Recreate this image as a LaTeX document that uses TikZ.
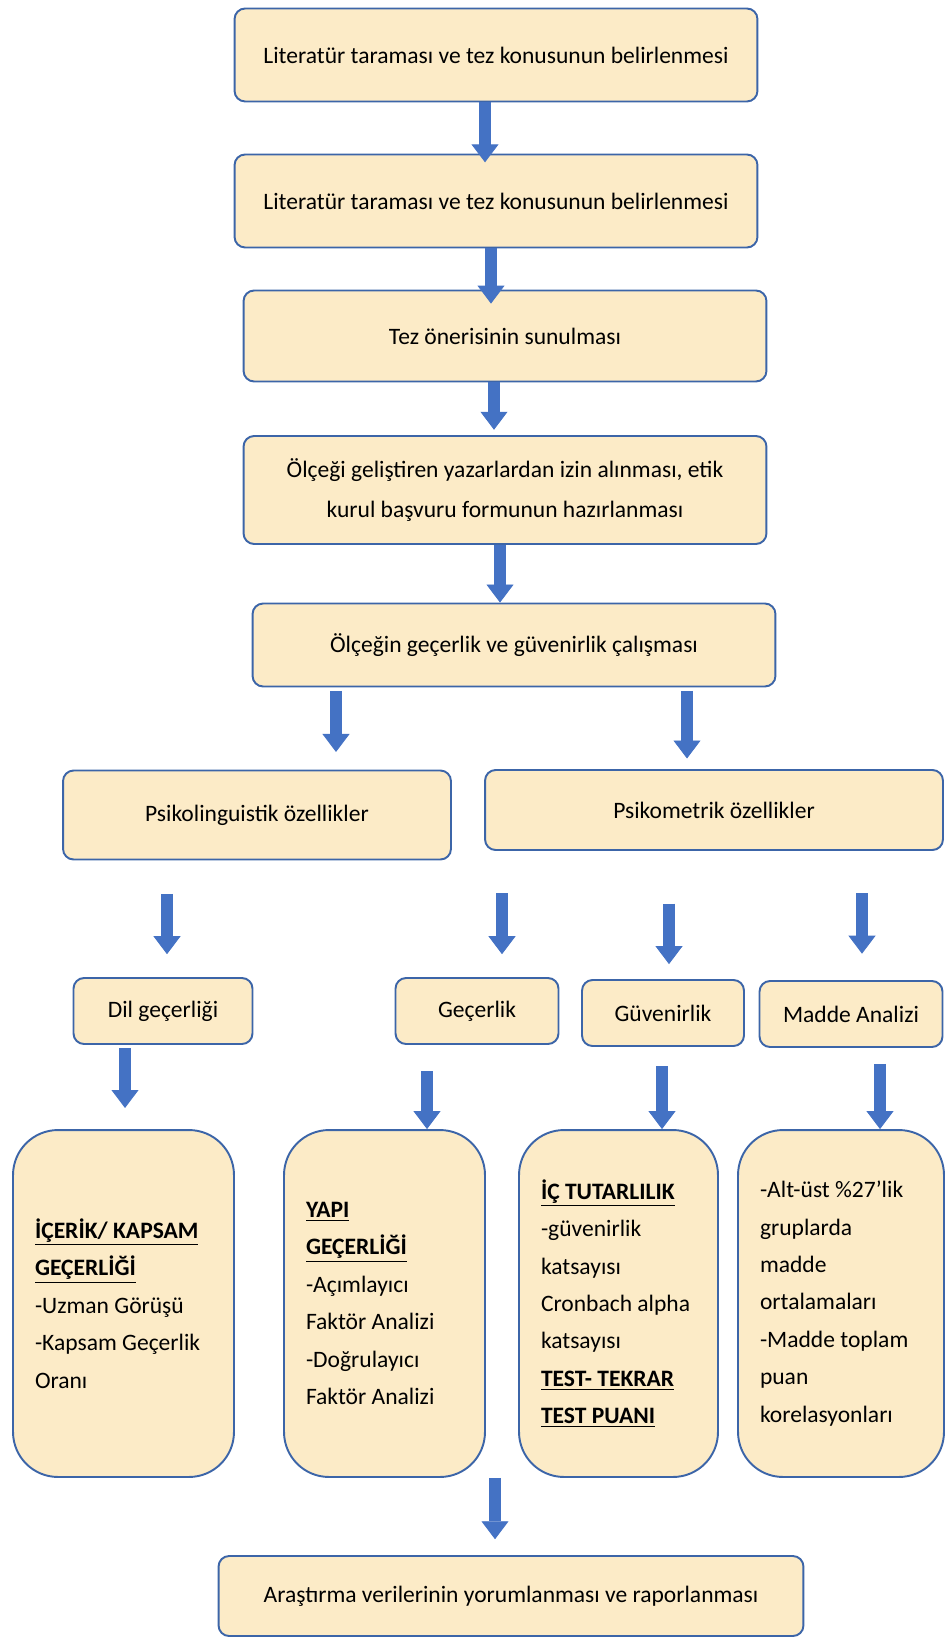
\documentclass[tikz,border=0pt]{standalone}
\usepackage{fontspec}
\setmainfont{Carlito}
\usetikzlibrary{
  arrows.meta,
  positioning,
  calc
}
\definecolor{fcFill}{HTML}{FCEBC7}
\definecolor{fcLine}{HTML}{3C65A8}
\definecolor{fcArrow}{HTML}{4472C4}
\tikzset{
  fcnode/.style={
    draw=fcLine, fill=fcFill, line width=1.1pt, rounded corners=6pt,
    align=center, inner sep=0pt, font=\fontsize{13.4}{23}\selectfont
  },
  stepbox/.style={fcnode, minimum width=10.46cm, minimum height=1.86cm},
  subbox/.style={fcnode, minimum height=1.32cm},
  detail/.style={
    fcnode, rounded corners=0.9cm, minimum height=6.94cm, align=flush left,
    inner xsep=0.44cm, font=\fontsize{13.4}{21.3}\selectfont
  },
  blk/.style={line width=0.24cm, fcArrow,
    -{Triangle[width=0.54cm, length=0.36cm, line width=0.5pt]}}
}
\newcommand{\hd}[1]{\underline{\textbf{#1}}}

\begin{document}
\begin{tikzpicture}[x=0.02cm, y=-0.02cm]
  \useasboundingbox (0,0) rectangle (946,1638);
  % main steps
  \node[stepbox] (lit1) at (496,55) {Literatür taraması ve tez konusunun belirlenmesi};
  \node[stepbox] (lit2) at (496,201) {Literatür taraması ve tez konusunun belirlenmesi};
  \node[stepbox, minimum height=1.82cm] (oneri) at (505,336) {Tez önerisinin sunulması};
  \node[stepbox, minimum height=2.16cm] (izin) at (505,490)
    {Ölçeği geliştiren yazarlardan izin alınması, etik\\kurul başvuru formunun hazırlanması};
  \node[stepbox, minimum height=1.66cm] (calisma) at (514,645) {Ölçeğin geçerlik ve güvenirlik çalışması};
  % two branches
  \node[fcnode, minimum width=7.76cm, minimum height=1.78cm] (dilozel) at (257,815) {Psikolinguistik özellikler};
  \node[fcnode, minimum width=9.16cm, minimum height=1.6cm] (olcozel) at (714,810) {Psikometrik özellikler};
  \foreach \nm/\x/\y/\w/\txt in {
    dil/163/1011/3.58/Dil geçerliği,
    gec/477/1011/3.26/Geçerlik,
    guv/663/1013/3.24/Güvenirlik,
    madde/851/1014/3.66/Madde Analizi}{
    \node[subbox, minimum width=\w cm] (\nm) at (\x,\y) {\txt};
  }
  % details
  \node[detail, text width=3.54cm] (icerik) at (123.5,1303.5)
    {\hd{İÇERİK/ KAPSAM}\\\hd{GEÇERLİĞİ}\\-Uzman Görüşü\\-Kapsam Geçerlik\\Oranı};
  \node[detail, text width=3.14cm] (yapi) at (384.5,1303.5)
    {\hd{YAPI}\\\hd{GEÇERLİĞİ}\\-Açımlayıcı\\Faktör Analizi\\-Doğrulayıcı\\Faktör Analizi};
  \node[detail, text width=3.10cm] (ic) at (618.5,1303.5)
    {\hd{İÇ TUTARLILIK}\\-güvenirlik\\katsayısı\\Cronbach alpha\\katsayısı\\\hd{TEST- TEKRAR}\\\hd{TEST PUANI}};
  \node[detail, text width=3.24cm] (alt) at (841,1303.5)
    {-Alt-üst \%27’lik\\gruplarda\\madde\\ortalamaları\\-Madde toplam\\puan\\korelasyonları};
  \node[fcnode, minimum width=11.7cm, minimum height=1.6cm] (rapor) at (511,1596)
    {Araştırma verilerinin yorumlanması ve raporlanması};
  % block arrows
  \foreach \x/\a/\b/\sa/\sb in {
    485/lit1/lit2/0/-5,
    491/lit2/oneri/0/-8,
    494/oneri/izin/0/3,
    500/izin/calisma/0/0,
    336/calisma/dilozel/2/10,
    687/calisma/olcozel/2/6,
    167/dilozel/dil/19/13,
    502/olcozel/gec/24/13,
    669/olcozel/guv/30/8.5,
    862/olcozel/madde/24/15,
    125/dil/icerik/2/12,
    427/gec/yapi/15/0,
    662/guv/ic/11/0,
    880/madde/alt/9/0,
    495/yapi/rapor/0/9}{
    \draw[blk, shorten <=\sa pt, shorten >=\sb pt] (\x,0 |- \a.south) -- (\x,0 |- \b.north);
  }
\end{tikzpicture}
\end{document}
